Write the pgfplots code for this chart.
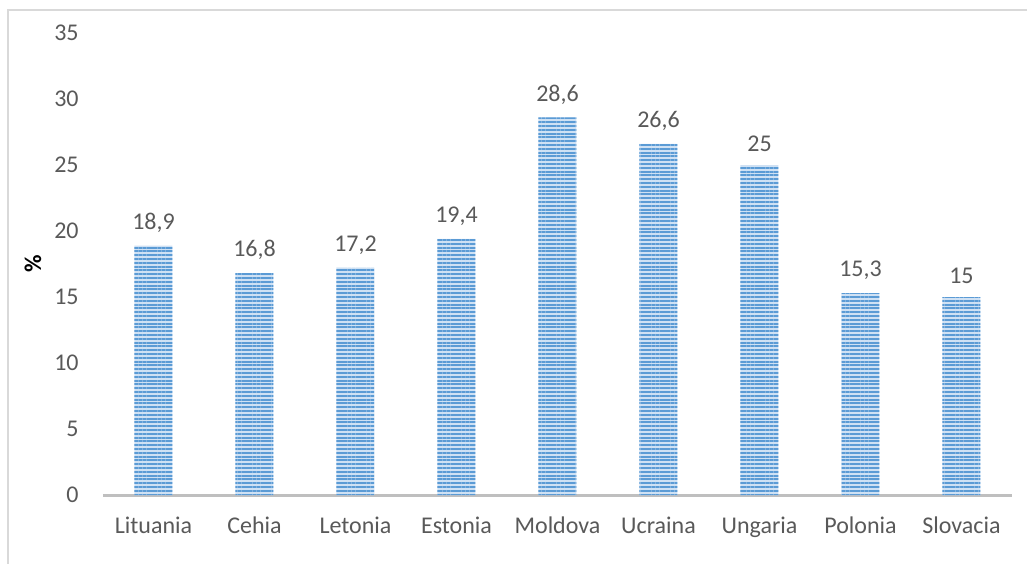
\documentclass[border=0pt]{standalone}
\usepackage{pgfplots}
\pgfplotsset{compat=1.18}
\usepackage{fontspec}
\setmainfont{Carlito}
\usetikzlibrary{patterns.meta}
\definecolor{txt}{HTML}{595959}
\definecolor{barlight}{HTML}{CFE1F4}
\definecolor{bardark}{HTML}{5B9BD5}
\definecolor{axisgray}{HTML}{BFBFBF}
\definecolor{framegray}{HTML}{D9D9D9}
\begin{document}
\fontsize{12}{14}\selectfont
\begin{tikzpicture}
\draw[framegray, line width=0.75pt] (-47.5pt,-40pt) -- (-47.5pt,242.5pt) -- (470pt,242.5pt);
\begin{axis}[
  at={(0,0)}, anchor=south west,
  scale only axis,
  width=454.5pt, height=231pt,
  xmin=-0.5, xmax=8.5,
  ymin=0, ymax=35,
  ytick={0,5,...,35},
  xtick={0,...,8},
  xticklabels={Lituania,Cehia,Letonia,Estonia,Moldova,Ucraina,Ungaria,Polonia,Slovacia},
  axis line style={draw=none},
  axis x line*=bottom,
  axis y line*=left,
  tick style={draw=none},
  major tick length=0pt,
  ticklabel style={font=\fontsize{12}{14}\selectfont, text=txt},
  yticklabel style={xshift=-8pt},
  xticklabel style={yshift=-6.5pt, text height=8.5pt, text depth=2.5pt},
  /pgf/number format/assume math mode=true,
  ylabel={\textbf{\%}},
  ylabel style={font=\fontsize{12}{14}\selectfont, text=txt, rotate=0},
  every axis y label/.style={at={(axis description cs:0,0.5)}, anchor=center, xshift=-35pt, rotate=90},
  nodes near coords,
  every node near coord/.append style={font=\fontsize{12}{14}\selectfont, text=txt, /pgf/number format/use comma, yshift=2.5pt},
  clip=false,
]
\draw[axisgray, line width=1.5pt] (axis cs:-0.5,0) -- (axis cs:8.5,0);
\addplot[ybar, bar width=19pt, draw=none, fill=barlight,
  postaction={pattern={Lines[angle=0,distance=1.9pt,line width=1.0pt]}, pattern color=bardark}]
  coordinates {(0,18.9) (1,16.8) (2,17.2) (3,19.4) (4,28.6) (5,26.6) (6,25) (7,15.3) (8,15)};
\end{axis}
\pgfresetboundingbox
\path (-51.5pt,-34pt) rectangle (462pt,247.5pt);
\end{tikzpicture}
\end{document}
